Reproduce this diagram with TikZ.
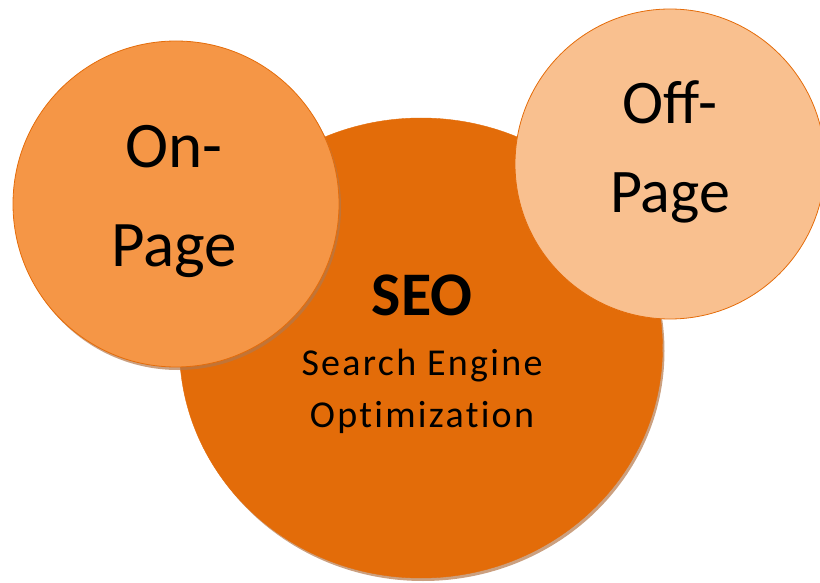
\documentclass[tikz,border=0pt]{standalone}
\usepackage{fontspec}
\setmainfont{Carlito}
\newfontfamily\spacedfont[LetterSpace=6,Ligatures=NoCommon]{Carlito}
\usetikzlibrary{shapes.geometric,shadows}
\definecolor{seoorange}{HTML}{E36C09}
\definecolor{onorange}{HTML}{F59646}
\definecolor{offpeach}{HTML}{F9C08F}
\definecolor{rimorange}{HTML}{E46C0A}
\definecolor{shadowbrown}{HTML}{B5784A}

\begin{document}
\begin{tikzpicture}[x=1pt,y=-1pt,
        disc/.style={circle,draw=rimorange,line width=0.8pt,inner sep=0pt},
        bigtext/.style={align=center,font=\fontsize{65}{99}\selectfont},
        smalltext/.style={anchor=base,font=\spacedfont\fontsize{38}{40}\selectfont}]
        \useasboundingbox (0,0) rectangle (820,583);
        \node[ellipse,fill=seoorange,draw=seoorange,minimum width=483pt,minimum height=460pt,inner sep=0pt,
            drop shadow={shadow xshift=2pt,shadow yshift=-3pt,fill=shadowbrown,opacity=0.7}] (seo) at (421,348) {};
        \node[disc,fill=onorange,minimum size=326pt,
            drop shadow={shadow xshift=2pt,shadow yshift=-3pt,fill=shadowbrown,opacity=0.7}] (onpage) at (176,204) {};
        \node[disc,fill=offpeach,minimum size=310pt] (offpage) at (670,164) {};
        \node[bigtext] (ontext) at (174,201) {On-\\Page};
        \node[bigtext,font=\fontsize{62}{89}\selectfont] (offtext) at (670,152) {Off-\\Page};
        \node[anchor=base,font=\bfseries\fontsize{62}{64}\selectfont] (seotitle) at (422,315) {SEO};
        \node[smalltext] (seoline1) at (422,375) {Search Engine};
        \node[smalltext] (seoline2) at (422,427) {Optimization};
\end{tikzpicture}
\end{document}
